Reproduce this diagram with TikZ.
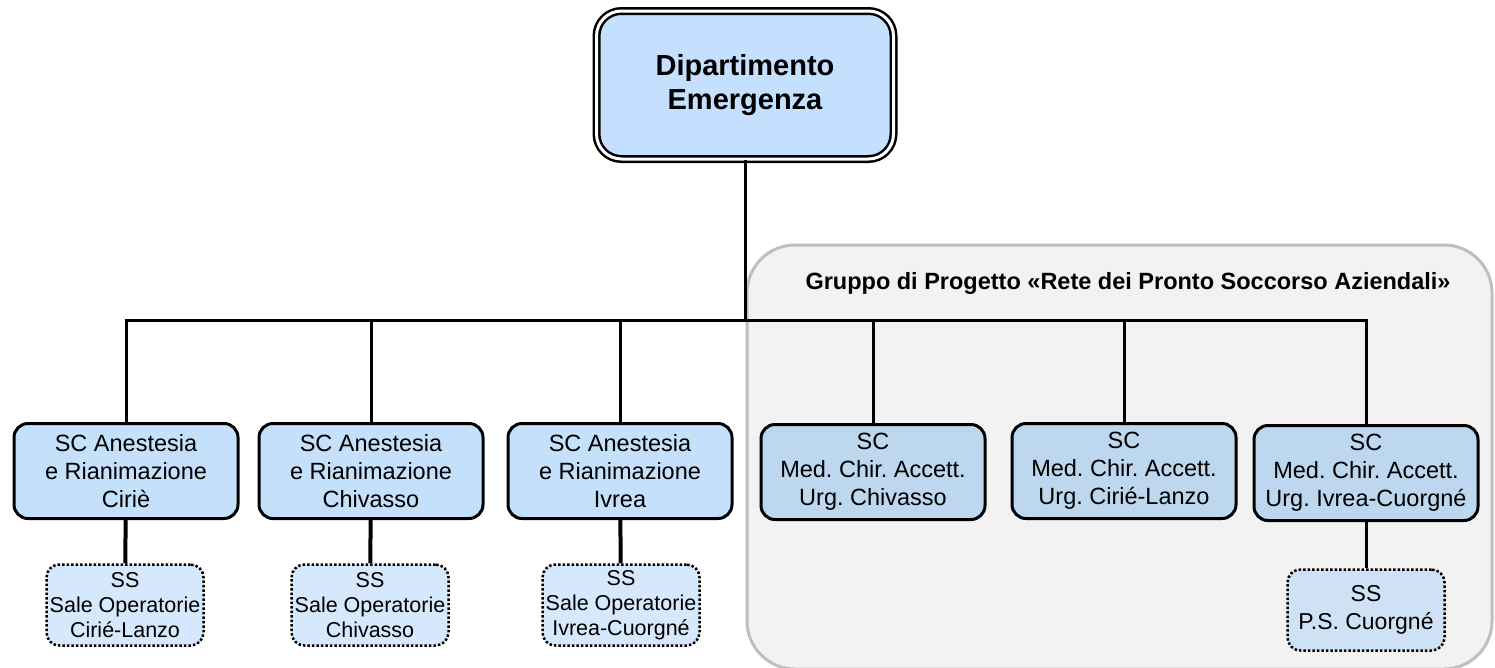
\documentclass[tikz,border=0pt]{standalone}
\usepackage{fontspec}
\setmainfont{Liberation Sans}
\frenchspacing
\definecolor{deptblue}{RGB}{197,224,255}
\definecolor{scblue}{RGB}{197,224,250}
\definecolor{scblueright}{RGB}{189,215,238}
\definecolor{ssblue}{RGB}{214,233,252}
\definecolor{ssblueright}{RGB}{207,226,245}
\definecolor{groupgrey}{RGB}{242,242,242}
\definecolor{groupedge}{RGB}{191,191,191}
\begin{document}
\begin{tikzpicture}[x=1pt,y=-1pt,
  deptbox/.style={draw,line width=2.5pt,double,double distance=3pt,rounded corners=25pt,fill=deptblue,minimum width=297pt,minimum height=148pt,align=center,inner sep=0pt,font=\fontsize{29}{34}\selectfont\bfseries},
  scbox/.style={draw,line width=3pt,rounded corners=14pt,fill=scblue,minimum width=224pt,minimum height=95pt,align=center,inner sep=0pt,font=\fontsize{23.5}{28}\selectfont},
  ssbox/.style={draw,line width=2.5pt,dash pattern=on 2.5pt off 2pt,rounded corners=13pt,fill=ssblue,minimum width=157pt,minimum height=81pt,align=center,inner sep=0pt,font=\fontsize{21.5}{25}\selectfont},
  link/.style={line width=3pt},
  sublink/.style={line width=4pt}]
\useasboundingbox (0,0) rectangle (1495,667);
% gruppo di progetto
\filldraw[fill=groupgrey,draw=groupedge,line width=3pt,rounded corners=48pt] (747,245) rectangle (1492,669);
\node[font=\fontsize{23.5}{28}\selectfont\bfseries] (gruppo) at (1128,283) {Gruppo di Progetto «Rete dei Pronto Soccorso Aziendali»};
% dipartimento
\node[deptbox] (dep) at (745,85) {Dipartimento\\Emergenza};
\coordinate (bus) at (745,320);
% strutture complesse
\node[scbox] (ciri) at (126,471) {SC Anestesia\\e Rianimazione\\Ciriè};
\node[scbox] (chiv) at (371,471) {SC Anestesia\\e Rianimazione\\Chivasso};
\node[scbox] (ivre) at (620,471) {SC Anestesia\\e Rianimazione\\Ivrea};
\node[scbox,fill=scblueright] (mchiv) at (873,472) {SC\\Med. Chir. Accett.\\Urg. Chivasso};
\node[scbox,fill=scblueright] (mciri) at (1124,471) {SC\\Med. Chir. Accett.\\Urg. Cirié-Lanzo};
\node[scbox,fill=scblueright] (mivre) at (1366,473) {SC\\Med. Chir. Accett.\\Urg. Ivrea-Cuorgné};
% strutture semplici
\node[ssbox] (sciri) at (125,605) {SS\\Sale Operatorie\\Cirié-Lanzo};
\node[ssbox] (schiv) at (370,605) {SS\\Sale Operatorie\\Chivasso};
\node[ssbox] (sivre) at (621,605) {SS\\Sale Operatorie\\Ivrea-Cuorgné};
\node[ssbox,fill=ssblueright,font=\fontsize{23}{28}\selectfont,text depth=6pt] (scuor) at (1366,610) {SS\\P.S. Cuorgné};
% collegamenti
\draw[link] (dep.south) -- (bus);
\draw[link] (ciri.north) |- (bus) -| (mivre.north);
\foreach \n in {chiv,ivre,mchiv,mciri}
  \draw[link] (\n.north |- bus) -- (\n.north);
\draw[sublink] (ciri) -- (sciri);
\draw[sublink] (chiv) -- (schiv);
\draw[sublink] (ivre) -- (sivre);
\draw[link] (mivre) -- (scuor);
\end{tikzpicture}
\end{document}
